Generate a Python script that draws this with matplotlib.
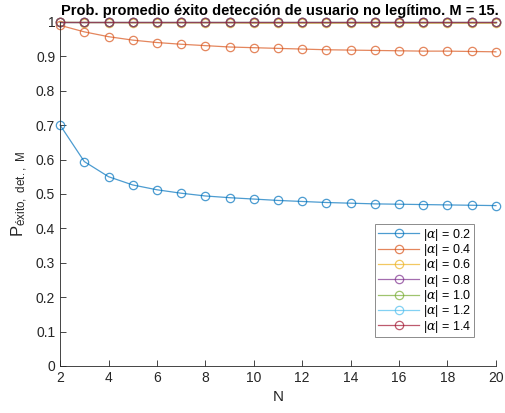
import numpy as np
import matplotlib.pyplot as plt

plt.rcParams['font.family'] = ['Liberation Sans', 'DejaVu Sans']
plt.rcParams['mathtext.fontset'] = 'custom'
plt.rcParams['mathtext.rm'] = 'Liberation Sans'
plt.rcParams['mathtext.it'] = 'DejaVu Serif:italic'

N = list(range(2, 21))
alphas = ["0.2", "0.4", "0.6", "0.8", "1.0", "1.2", "1.4"]
p_02 = [0.700, 0.594, 0.550, 0.526, 0.512, 0.502, 0.494, 0.489, 0.485, 0.481,
        0.478, 0.475, 0.473, 0.471, 0.470, 0.469, 0.468, 0.467, 0.466]
p_04 = [0.990, 0.971, 0.957, 0.947, 0.940, 0.935, 0.931, 0.927, 0.925, 0.923,
        0.921, 0.919, 0.918, 0.917, 0.916, 0.915, 0.915, 0.914, 0.913]
p_06 = [0.999, 0.998, 0.998, 0.997, 0.997, 0.997, 0.997, 0.997, 0.996, 0.996,
        0.996, 0.996, 0.996, 0.996, 0.996, 0.996, 0.996, 0.996, 0.996]
p_08 = [1.0] * 19
p_10 = [1.0] * 19
p_12 = [1.0] * 19
p_14 = [1.0] * 19
series = [p_02, p_04, p_06, p_08, p_10, p_12, p_14]
colors = ['#0072BD', '#D95319', '#EDB120', '#7E2F8E', '#77AC30', '#4DBEEE', '#A2142F']

fig = plt.figure(figsize=(5.05, 4.13), dpi=100)
ax = fig.add_axes([0.119, 0.114, 0.863, 0.833])

for a, y, c in zip(alphas, series, colors):
    ax.plot(N, y, '-o', color=c, alpha=0.7, lw=0.9, ms=6, mfc='none', mew=0.9,
            label=rf'$|\alpha|$ = {a}', clip_on=False)

ax.set_xlim(2, 20)
ax.set_ylim(0, 1)
ax.set_xticks(range(2, 21, 2))
ax.set_yticks(np.arange(0, 1.01, 0.1))
ax.set_yticklabels(['0', '0.1', '0.2', '0.3', '0.4', '0.5', '0.6', '0.7', '0.8', '0.9', '1'])
ax.spines['top'].set_visible(False)
ax.spines['right'].set_visible(False)
for s in ['left', 'bottom']:
    ax.spines[s].set_color('#262626')
    ax.spines[s].set_linewidth(0.6)
ax.tick_params(direction='in', length=4, width=0.6, colors='#262626', labelsize=10)

ax.set_xlabel('N', fontsize=11, color='#262626')
ax.set_ylabel(r'P$_{\mathrm{éxito,\ det.,\ M}}$', fontsize=12, color='#262626')
ax.set_title('Prob. promedio éxito detección de usuario no legítimo. M = 15.',
             fontsize=10.5, fontweight='bold', pad=5, x=0.505)

leg = ax.legend(loc='lower right', bbox_to_anchor=(0.949, 0.083), fontsize=9,
                fancybox=False, edgecolor='#8c8c8c', framealpha=1,
                handlelength=3.3, handletextpad=0.3, borderpad=0.2,
                labelspacing=-0.05, borderaxespad=0)
leg.get_frame().set_linewidth(0.7)

fig.savefig('out.png', dpi=100)
